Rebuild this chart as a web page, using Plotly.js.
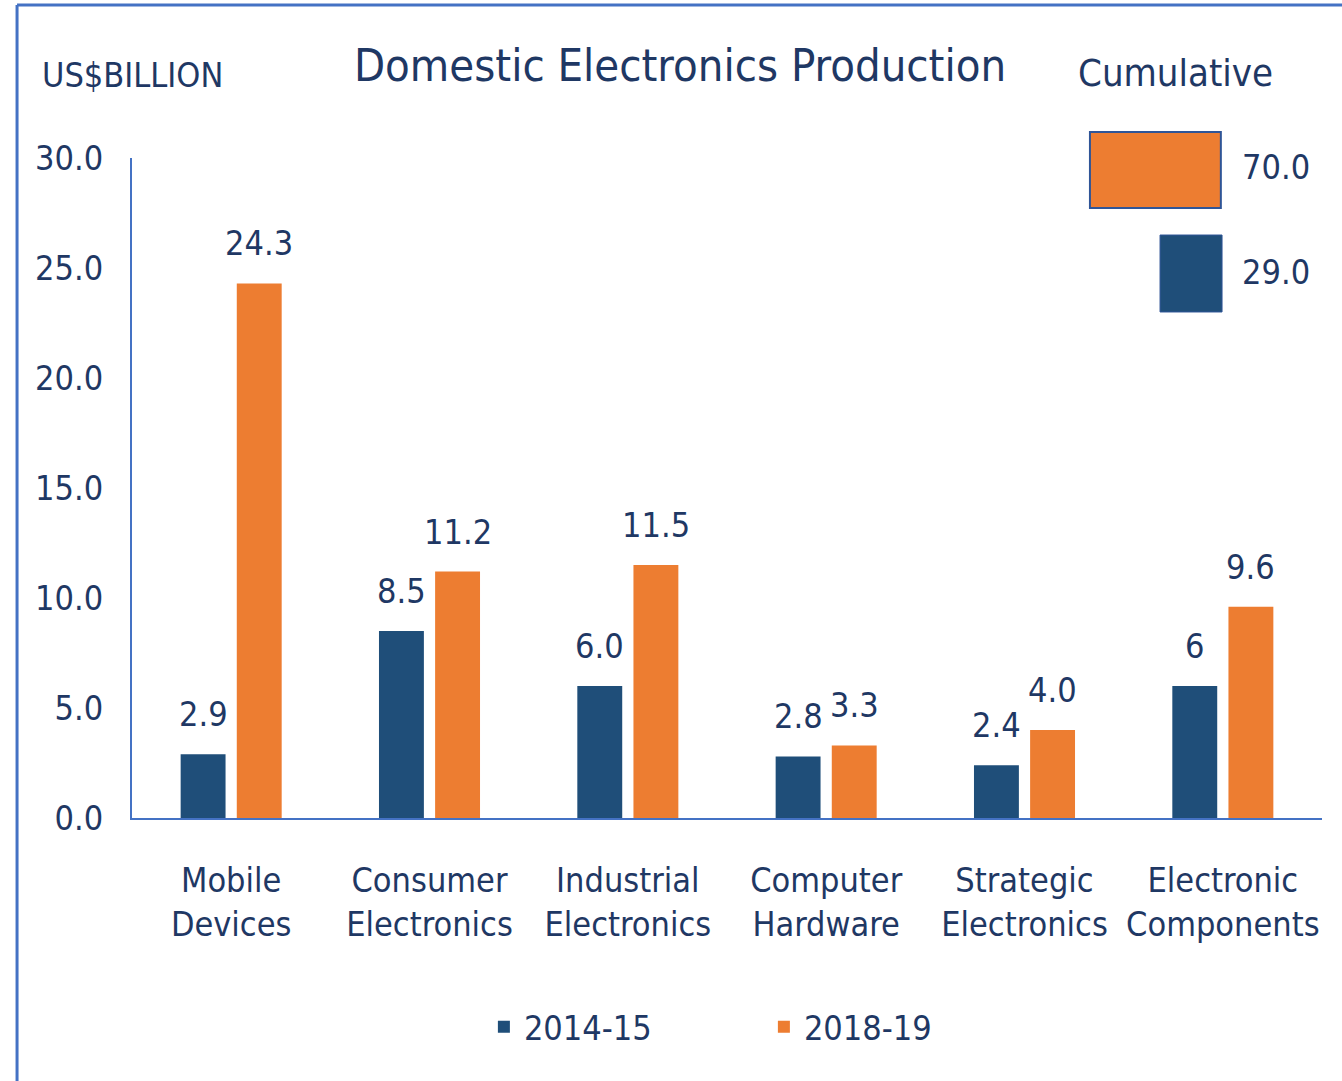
<!DOCTYPE html>
<html>
<head>
<meta charset="utf-8">
<script src="https://cdn.plot.ly/plotly-3.0.1.min.js"></script>
<style>html,body{margin:0;padding:0;background:#fff;}#chart{width:1342px;height:1081px;}</style>
</head>
<body>
<div id="chart"></div>
<script>
const categories = ["Mobile<br>Devices", "Consumer<br>Electronics", "Industrial<br>Electronics", "Computer<br>Hardware", "Strategic<br>Electronics", "Electronic<br>Components"];
const series2014 = [2.9, 8.5, 6.0, 2.8, 2.4, 6.0];
const series2018 = [24.3, 11.2, 11.5, 3.3, 4.0, 9.6];
const labels2014 = ["2.9", "8.5", "6.0", "2.8", "2.4", "6"];
const labels2018 = ["24.3", "11.2", "11.5", "3.3", "4.0", "9.6"];
const seriesNames = ["2014-15", "2018-19"];
const cumulative = {"2014-15": 29.0, "2018-19": 70.0};
const yTicks = [0, 5, 10, 15, 20, 25, 30];

const FONT = "DejaVu Sans Condensed, DejaVu Sans, sans-serif";
const NAVY = "#1F3864";
const BLUE = "#1F4E79";
const ORANGE = "#ED7D31";
const LINE = "#4472C4";

const traces = [
  {type: "bar", name: seriesNames[0], x: categories, y: series2014, marker: {color: BLUE}, hoverinfo: "none"},
  {type: "bar", name: seriesNames[1], x: categories, y: series2018, marker: {color: ORANGE}, hoverinfo: "none"}
];

const annotations = [];
categories.forEach((c, i) => {
  annotations.push({x: c, y: series2014[i], xref: "x", yref: "y", text: labels2014[i], showarrow: false, xshift: -28, yshift: 18, yanchor: "bottom", font: {family: FONT, size: 34, color: NAVY}});
  annotations.push({x: c, y: series2018[i], xref: "x", yref: "y", text: labels2018[i], showarrow: false, xshift: 28, yshift: 18, yanchor: "bottom", font: {family: FONT, size: 34, color: NAVY}});
});
annotations.push({x: -0.0773, y: 1.1258, xref: "paper", yref: "paper", xanchor: "left", yanchor: "middle", text: "US$BILLION", showarrow: false, font: {family: FONT, size: 34, color: NAVY}});
annotations.push({x: 0.8765, y: 1.1288, xref: "paper", yref: "paper", xanchor: "center", yanchor: "middle", text: "Cumulative", showarrow: false, font: {family: FONT, size: 38, color: NAVY}});
annotations.push({x: 0.9613, y: 0.986, xref: "paper", yref: "paper", xanchor: "center", yanchor: "middle", text: cumulative["2018-19"].toFixed(1), showarrow: false, font: {family: FONT, size: 34, color: NAVY}});
annotations.push({x: 0.9613, y: 0.827, xref: "paper", yref: "paper", xanchor: "center", yanchor: "middle", text: cumulative["2014-15"].toFixed(1), showarrow: false, font: {family: FONT, size: 34, color: NAVY}});

const shapes = [
  {type: "line", xref: "paper", yref: "paper", x0: -0.0966, x1: 1.02, y0: 1.2318, y1: 1.2318, line: {color: LINE, width: 3}},
  {type: "line", xref: "paper", yref: "paper", x0: -0.0966, x1: -0.0966, y0: 1.2318, y1: -0.40, line: {color: LINE, width: 3}},
  {type: "rect", xref: "paper", yref: "paper", x0: 0.805, x1: 0.915, y0: 0.9242, y1: 1.0394, fillcolor: ORANGE, line: {color: "#2F5597", width: 2}},
  {type: "rect", xref: "paper", yref: "paper", x0: 0.8639, x1: 0.916, y0: 0.7667, y1: 0.8833, fillcolor: BLUE, line: {color: "#2F5597", width: 1}}
];

const layout = {
  width: 1342, height: 1081,
  margin: {l: 132, r: 20, t: 158, b: 263},
  paper_bgcolor: "#fff", plot_bgcolor: "#fff",
  font: {family: FONT, size: 34, color: NAVY},
  title: {text: "Domestic Electronics Production", x: 0.5067, xref: "container", y: 0.94, yref: "container", xanchor: "center", yanchor: "middle", font: {family: FONT, size: 45, color: NAVY}},
  barmode: "group", bargap: 0.434, bargroupgap: 0.2,
  xaxis: {showline: true, linecolor: LINE, linewidth: 2, showgrid: false, zeroline: false, ticks: "", tickfont: {family: FONT, size: 34, color: NAVY}, ticklabelstandoff: 31},
  yaxis: {range: [0, 30], tickvals: yTicks, tickformat: ".1f", showline: true, linecolor: LINE, linewidth: 2, showgrid: false, zeroline: false, ticks: "", tickfont: {family: FONT, size: 34, color: NAVY}, ticklabelstandoff: 20},
  showlegend: true,
  legend: {orientation: "h", x: 0.531, xanchor: "center", y: -0.317, yanchor: "middle", font: {family: FONT, size: 34, color: NAVY}, entrywidth: 235, entrywidthmode: "pixels"},
  annotations: annotations,
  shapes: shapes
};

Plotly.newPlot("chart", traces, layout, {displayModeBar: false, staticPlot: true});
</script>
</body>
</html>
